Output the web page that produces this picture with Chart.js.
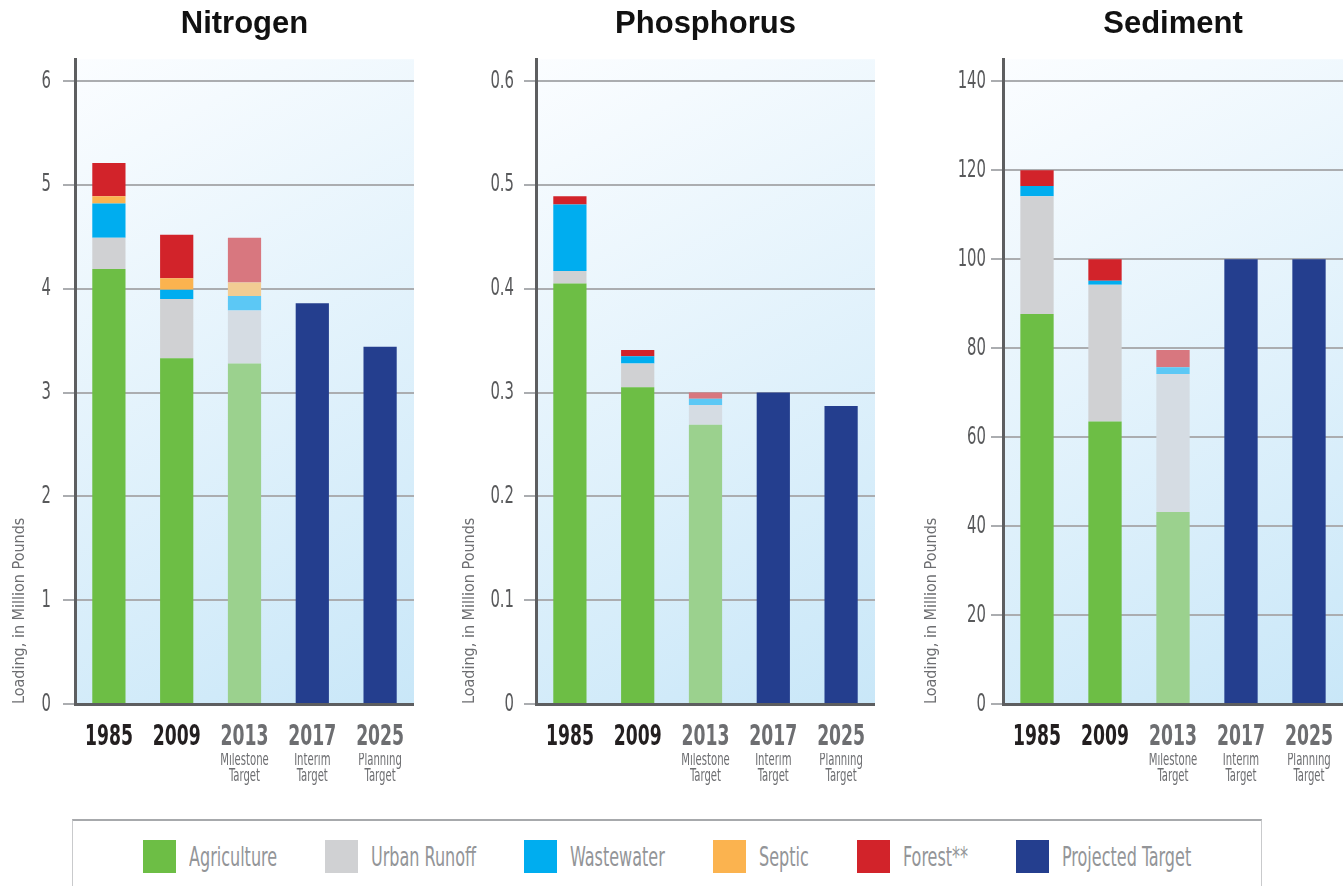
<!DOCTYPE html>
<html>
<head>
<meta charset="utf-8">
<title>Nutrient and Sediment Loads</title>
<script src="https://cdn.jsdelivr.net/npm/chart.js@4.4.1/dist/chart.umd.min.js"></script>
<style>
  html, body { margin: 0; padding: 0; background: #ffffff; }
  body {
    width: 1343px; height: 886px; position: relative; overflow: hidden;
    font-family: "DejaVu Sans Condensed", "DejaVu Sans", sans-serif;
  }
  canvas.panel { position: absolute; top: 0; }
  #legend {
    position: absolute; left: 72px; top: 819px; width: 1190px; height: 80px;
    box-sizing: border-box; border: 1px solid #c9cacc; border-top: 2px solid #a7a9ac;
    display: flex; justify-content: center; gap: 48px; padding-top: 19px;
  }
  .item { display: flex; align-items: center; height: 33px; }
  .swatch { width: 33px; height: 33px; margin-right: 13px; flex: none; }
  .label {
    display: inline-block; font-size: 27px; color: #939598; white-space: nowrap;
    transform-origin: 0 50%;
  }
</style>
</head>
<body>
<canvas id="nitrogen" class="panel" width="414" height="800" style="left:0px"></canvas>
<canvas id="phosphorus" class="panel" width="425" height="800" style="left:450px"></canvas>
<canvas id="sediment" class="panel" width="431" height="800" style="left:912px"></canvas>
<div id="legend"></div>

<script>
// Years and the notes printed under the target years
const categories = ['1985', '2009', '2013', '2017', '2025'];
const subLabels = [[''], [''], ['Milestone', 'Target'], ['Interim', 'Target'], ['Planning', 'Target']];
const sourceNames = ['Agriculture', 'Urban Runoff', 'Wastewater', 'Septic', 'Forest**', 'Projected Target'];

// Nitrogen, million pounds
const nitrogenAgriculture = [4.19, 3.33, 3.28, null, null];
const nitrogenUrban       = [0.30, 0.57, 0.51, null, null];
const nitrogenWastewater  = [0.33, 0.09, 0.14, null, null];
const nitrogenSeptic      = [0.07, 0.11, 0.13, null, null];
const nitrogenForest      = [0.32, 0.42, 0.43, null, null];
const nitrogenTarget      = [null, null, null, 3.86, 3.44];

// Phosphorus, million pounds
const phosphorusAgriculture = [0.405, 0.305, 0.269, null, null];
const phosphorusUrban       = [0.012, 0.023, 0.019, null, null];
const phosphorusWastewater  = [0.064, 0.007, 0.006, null, null];
const phosphorusSeptic      = [null, null, null, null, null];
const phosphorusForest      = [0.008, 0.006, 0.006, null, null];
const phosphorusTarget      = [null, null, null, 0.300, 0.287];

// Sediment, million pounds
const sedimentAgriculture = [87.7, 63.5, 43.2, null, null];
const sedimentUrban       = [26.5, 30.8, 31.0, null, null];
const sedimentWastewater  = [2.3, 0.9, 1.5, null, null];
const sedimentSeptic      = [null, null, null, null, null];
const sedimentForest      = [3.5, 4.8, 3.9, null, null];
const sedimentTarget      = [null, null, null, 100, 100];

// Axis tick values
const nitrogenTicks   = [0, 1, 2, 3, 4, 5, 6];
const phosphorusTicks = [0, 0.1, 0.2, 0.3, 0.4, 0.5, 0.6];
const sedimentTicks   = [0, 20, 40, 60, 80, 100, 120, 140];

const sourceColors = ['#6dbe45', '#d0d1d3', '#00adef', '#fbb34f', '#d2232a', '#243e8e'];
const plannedColors = ['#9bd18e', '#d5dce3', '#5cc8f5', '#f2cc93', '#d8777f', '#243e8e'];

// Tick text uses an extra-narrow set: the condensed face squeezed horizontally.
// Fonts given with a generic fallback (titles, axis title) are drawn as is.
const SQUEEZE = 0.66;
const squeezedFamily = '"DejaVu Sans Condensed"';
const plainFamily = '"DejaVu Sans Condensed", sans-serif';

function squeezeText(ctx, factor) {
  const fill = ctx.fillText;
  const measure = ctx.measureText;
  const squeezed = c => !/serif/.test(c.font);
  ctx.fillText = function (text, x, y, maxWidth) {
    if (!squeezed(this)) {
      return maxWidth === undefined ? fill.call(this, text, x, y) : fill.call(this, text, x, y, maxWidth);
    }
    this.save();
    this.translate(x, y);
    this.scale(factor, 1);
    if (maxWidth === undefined) fill.call(this, text, 0, 0);
    else fill.call(this, text, 0, 0, maxWidth / factor);
    this.restore();
  };
  ctx.measureText = function (text) {
    const m = measure.call(this, text);
    if (!squeezed(this)) return m;
    return {
      width: m.width * factor,
      actualBoundingBoxAscent: m.actualBoundingBoxAscent,
      actualBoundingBoxDescent: m.actualBoundingBoxDescent
    };
  };
  return ctx;
}

Chart.defaults.font.family = squeezedFamily;
Chart.defaults.animation = false;

const panelBackground = {
  id: 'panelBackground',
  beforeDraw(chart) {
    const { ctx, chartArea: { left, top, right, bottom } } = chart;
    const g = ctx.createLinearGradient(left, top, right, bottom);
    g.addColorStop(0, '#fbfdff');
    g.addColorStop(1, '#c9e7f8');
    ctx.save();
    ctx.fillStyle = g;
    ctx.fillRect(left, top, right - left, bottom - top);
    ctx.restore();
  }
};

function makePanel(id, title, series, ticks, yMax, axisWidth, labelGap) {
  const tickSet = ticks.map(v => +v.toFixed(4));
  const datasets = series.map((data, i) => ({
    label: sourceNames[i],
    data: data,
    backgroundColor: c => (c.dataIndex === 2 ? plannedColors[i] : sourceColors[i]),
    borderWidth: 0,
    barPercentage: 0.49,
    categoryPercentage: 1
  }));
  const ctx = squeezeText(document.getElementById(id).getContext('2d'), SQUEEZE);
  return new Chart(ctx, {
    type: 'bar',
    data: { labels: categories, datasets },
    plugins: [panelBackground],
    options: {
      responsive: false,
      layout: { padding: { bottom: 7 } },
      plugins: {
        legend: { display: false },
        tooltip: { enabled: false },
        title: {
          display: true, text: title, fullSize: false, color: '#111111',
          font: { family: '"Liberation Sans", Arial, sans-serif', size: 31, weight: 'bold' },
          padding: { top: 6, bottom: 16 }
        }
      },
      scales: {
        x: {
          stacked: true, offset: true,
          grid: { display: false, drawTicks: false },
          border: { color: '#5d5e60', width: 3 },
          ticks: {
            font: { size: 29, weight: 'bold', lineHeight: '67px' }, padding: 0,
            maxRotation: 0, minRotation: 0, autoSkip: false,
            color: c => (c.index < 2 ? '#231f20' : '#6d6e71')
          },
          afterFit: s => { s.height = 49; }
        },
        x2: {
          type: 'category', labels: subLabels, position: 'bottom', offset: true,
          grid: { display: false, drawTicks: false },
          border: { display: false },
          ticks: {
            font: { size: 17, lineHeight: '16px' }, color: '#6d6e71', padding: 0,
            maxRotation: 0, minRotation: 0, autoSkip: false
          },
          afterFit: s => { s.height = 40; }
        },
        y: {
          stacked: true, min: 0, max: yMax,
          afterBuildTicks: s => {
            s.ticks = tickSet.map(v => ({ value: v }));
          },
          grid: { color: '#abadb0', lineWidth: 2, tickLength: 12 },
          border: { color: '#5d5e60', width: 3 },
          ticks: {
            font: { size: 25 }, color: '#58595b', padding: labelGap,
            callback: v => String(+(+v).toFixed(2))
          },
          title: {
            display: true, text: 'Loading, in Million Pounds', align: 'start',
            font: { family: plainFamily, size: 16 }, color: '#6d6e71',
            padding: { top: 10, bottom: 0 }
          },
          afterFit: s => { s.width = axisWidth; }
        }
      }
    }
  });
}

makePanel('nitrogen', 'Nitrogen',
  [nitrogenAgriculture, nitrogenUrban, nitrogenWastewater, nitrogenSeptic, nitrogenForest, nitrogenTarget],
  nitrogenTicks, 6.21, 75, 12);
makePanel('phosphorus', 'Phosphorus',
  [phosphorusAgriculture, phosphorusUrban, phosphorusWastewater, phosphorusSeptic, phosphorusForest, phosphorusTarget],
  phosphorusTicks, 0.621, 86, 10);
makePanel('sediment', 'Sediment',
  [sedimentAgriculture, sedimentUrban, sedimentWastewater, sedimentSeptic, sedimentForest, sedimentTarget],
  sedimentTicks, 145, 91, 5);

// Shared legend under the three panels
const legend = document.getElementById('legend');
sourceNames.forEach((name, i) => {
  const item = document.createElement('div');
  item.className = 'item';
  const sw = document.createElement('div');
  sw.className = 'swatch';
  sw.style.background = sourceColors[i];
  const lb = document.createElement('span');
  lb.className = 'label';
  lb.textContent = name;
  item.appendChild(sw);
  item.appendChild(lb);
  legend.appendChild(item);
  const w = lb.offsetWidth;
  lb.style.transform = 'scaleX(' + SQUEEZE + ')';
  lb.style.marginRight = (w * SQUEEZE - w) + 'px';
});
</script>
</body>
</html>
